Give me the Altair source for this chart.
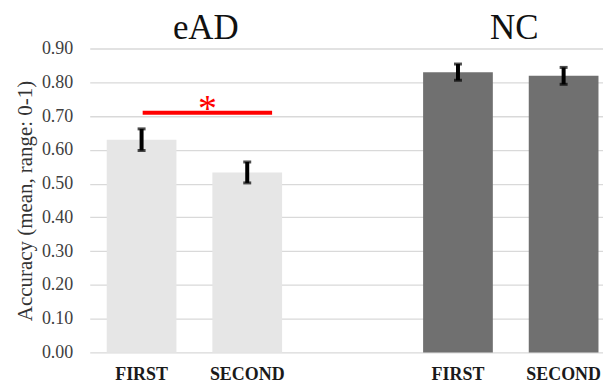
import altair as alt
import pandas as pd

groups = ["eAD", "eAD", "NC", "NC"]
conds = ["FIRST", "SECOND", "FIRST", "SECOND"]
means = [0.630, 0.533, 0.830, 0.819]
errs = [0.032, 0.031, 0.024, 0.025]

group_names = ["eAD", "NC"]
group_colors = ["#E6E6E6", "#707070"]

y_ticks = [0.0, 0.1, 0.2, 0.3, 0.4, 0.5, 0.6, 0.7, 0.8, 0.9]

sig_group = ["eAD"]
sig_y = [0.71]
sig_label = ["*"]

df = pd.DataFrame({"group": groups, "cond": conds, "mean": means, "err": errs})
df["lo"] = df["mean"] - df["err"]
df["hi"] = df["mean"] + df["err"]

sig = pd.DataFrame({"group": sig_group, "y": sig_y, "label": sig_label})
titles = pd.DataFrame({"group": group_names})

W, H = 515, 305
SERIF = "Liberation Serif"
YTITLE = "Accuracy (mean, range: 0-1)"

xscale = alt.Scale(domain=group_names, paddingInner=0.4457, paddingOuter=0.034, align=0.79)
xo_scale = alt.Scale(domain=["FIRST", "SECOND"], paddingInner=0.34, paddingOuter=0)
yscale = alt.Scale(domain=[0, 0.9], nice=False)

YAX = alt.Axis(values=y_ticks, tickCount=10, format=".2f", ticks=False, domain=False,
               labelOverlap=False, labelFlush=False,
               labelFont=SERIF, labelFontSize=18, labelColor="#404040",
               labelPadding=17, titleFont=SERIF, titleFontSize=21,
               titleFontWeight="normal", titleColor="#333333",
               titlePadding=6, gridColor="#d9d9d9", gridWidth=1.3)


def YQ(f):
    return alt.Y(f, scale=yscale, axis=YAX, title=YTITLE)


X = alt.X("group:N", scale=xscale, axis=None)
XO = alt.XOffset("cond:N", scale=xo_scale)

base = alt.Chart(df)

bars = base.mark_bar().encode(
    x=X,
    xOffset=XO,
    y=YQ("mean:Q"),
    color=alt.Color("group:N", scale=alt.Scale(domain=group_names, range=group_colors), legend=None),
)

err_rule = base.mark_rule(color="black", strokeWidth=4).encode(
    x=X, xOffset=XO, y=YQ("lo:Q"), y2="hi:Q",
)
cap_lo = base.mark_tick(color="black", size=8, thickness=3).encode(
    x=X, xOffset=XO, y=YQ("lo:Q"))
cap_hi = base.mark_tick(color="black", size=8, thickness=3).encode(
    x=X, xOffset=XO, y=YQ("hi:Q"))

xlabels = base.mark_text(font=SERIF, fontSize=18, fontWeight="bold", color="#1a1a1a",
                         baseline="alphabetic").encode(
    x=X, xOffset=XO, y=alt.value(H + 28), text="cond:N")


def group_title(name, band_pos):
    return alt.Chart(titles).transform_filter(
        alt.datum.group == name
    ).mark_text(font=SERIF, fontSize=35, color="#111111", baseline="alphabetic").encode(
        x=alt.X("group:N", scale=xscale, axis=None, bandPosition=band_pos),
        y=alt.value(-10), text="group:N")


gtitle_ead = group_title(group_names[0], 0.565)
gtitle_nc = group_title(group_names[1], 0.52)

sig_line = alt.Chart(sig).mark_rule(color="#ff0000", strokeWidth=4).encode(
    x=alt.X("group:N", scale=xscale, axis=None, bandPosition=0.205),
    x2=alt.X2("group:N", bandPosition=0.943),
    y=YQ("y:Q"),
)
sig_star = alt.Chart(sig).mark_text(font=SERIF, fontSize=38, color="#ff0000",
                                    baseline="alphabetic", dy=8).encode(
    x=alt.X("group:N", scale=xscale, axis=None, bandPosition=0.574),
    y=YQ("y:Q"),
    text="label:N",
)

chart = alt.layer(bars, err_rule, cap_lo, cap_hi, xlabels, gtitle_ead, gtitle_nc,
                  sig_line, sig_star).properties(
    width=W, height=H,
    autosize=alt.AutoSizeParams(type="none"),
    padding={"left": 82, "top": 40, "right": 0, "bottom": 32},
    background="white",
).configure_view(stroke=None)

chart.save("out.html", embed_options={"renderer": "svg", "actions": False})
